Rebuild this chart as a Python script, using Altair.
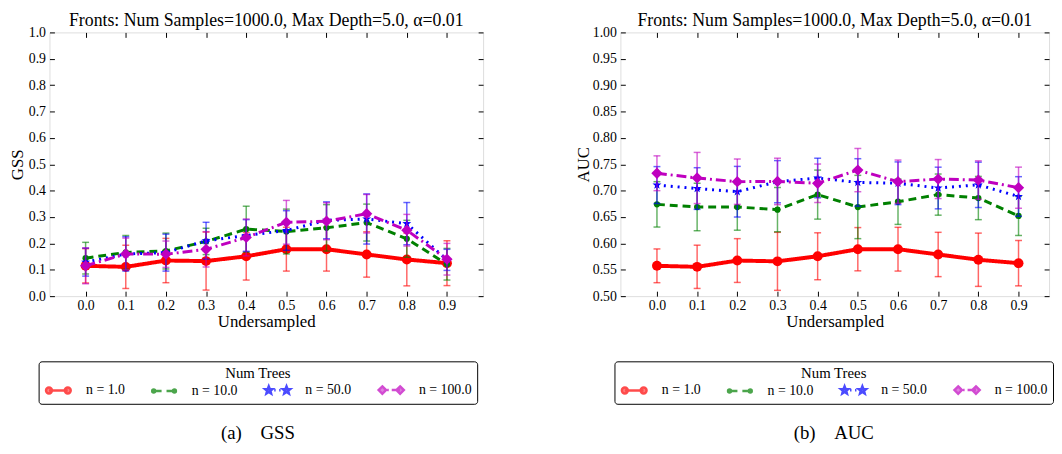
import altair as alt
import pandas as pd
import math

FONT = "Liberation Serif"

# ---------------- data ----------------
x_vals = [0.0, 0.1, 0.2, 0.3, 0.4, 0.5, 0.6, 0.7, 0.8, 0.9]
series = ["n = 1.0", "n = 10.0", "n = 50.0", "n = 100.0"]
colors = ["#ff0000", "#008000", "#0000ff", "#bf00bf"]

gss_n1 = [0.115, 0.111, 0.135, 0.133, 0.151, 0.178, 0.178, 0.158, 0.139, 0.125]
gss_n1_sd = [0.065, 0.082, 0.084, 0.110, 0.090, 0.083, 0.083, 0.086, 0.100, 0.085]
gss_n10 = [0.144, 0.166, 0.171, 0.2075, 0.254, 0.245, 0.259, 0.279, 0.2175, 0.121]
gss_n10_sd = [0.060, 0.064, 0.068, 0.050, 0.087, 0.085, 0.088, 0.070, 0.070, 0.060]
gss_n50 = [0.129, 0.160, 0.165, 0.210, 0.230, 0.249, 0.2875, 0.2925, 0.275, 0.1375]
gss_n50_sd = [0.053, 0.065, 0.070, 0.070, 0.060, 0.075, 0.070, 0.095, 0.080, 0.040]
gss_n100 = [0.115, 0.160, 0.159, 0.1775, 0.2225, 0.280, 0.284, 0.3125, 0.250, 0.140]
gss_n100_sd = [0.068, 0.060, 0.050, 0.067, 0.070, 0.083, 0.070, 0.073, 0.060, 0.060]

auc_n1 = [0.5575, 0.5556, 0.5675, 0.566, 0.5756, 0.589, 0.589, 0.579, 0.569, 0.5625]
auc_n1_sd = [0.032, 0.041, 0.0415, 0.055, 0.0445, 0.041, 0.0415, 0.042, 0.0505, 0.043]
auc_n10 = [0.674, 0.669, 0.669, 0.664, 0.6925, 0.669, 0.679, 0.6925, 0.686, 0.652]
auc_n10_sd = [0.043, 0.045, 0.044, 0.042, 0.0465, 0.060, 0.043, 0.039, 0.041, 0.037]
auc_n50 = [0.7106, 0.704, 0.698, 0.717, 0.724, 0.7156, 0.714, 0.705, 0.711, 0.689]
auc_n50_sd = [0.035, 0.0395, 0.048, 0.040, 0.0375, 0.045, 0.0405, 0.0395, 0.043, 0.0375]
auc_n100 = [0.733, 0.724, 0.717, 0.7175, 0.714, 0.739, 0.717, 0.722, 0.720, 0.7056]
auc_n100_sd = [0.033, 0.0485, 0.043, 0.044, 0.0365, 0.041, 0.041, 0.037, 0.0365, 0.039]

gss_ticks = [0.0, 0.1, 0.2, 0.3, 0.4, 0.5, 0.6, 0.7, 0.8, 0.9, 1.0]
auc_ticks = [0.50, 0.55, 0.60, 0.65, 0.70, 0.75, 0.80, 0.85, 0.90, 0.95, 1.00]

title_text = "Fronts: Num Samples=1000.0, Max Depth=5.0, \u03b1=0.01"


def build_df(means, sds):
    rows = []
    for s, m, sd in zip(series, means, sds):
        for x, v, e in zip(x_vals, m, sd):
            rows.append({"x": x, "series": s, "mean": v, "lo": v - e, "hi": v + e})
    return pd.DataFrame(rows)


gss_df = build_df([gss_n1, gss_n10, gss_n50, gss_n100],
                  [gss_n1_sd, gss_n10_sd, gss_n50_sd, gss_n100_sd])
auc_df = build_df([auc_n1, auc_n10, auc_n50, auc_n100],
                  [auc_n1_sd, auc_n10_sd, auc_n50_sd, auc_n100_sd])


# ---------------- marker / legend glyphs ----------------
def circle(cx, r):
    return f"M{cx + r},0A{r},{r} 0 1,1 {cx - r},0A{r},{r} 0 1,1 {cx + r},0Z"


def star(cx, R, ri):
    pts = []
    for k in range(10):
        a = math.radians(-90 + 36 * k)
        r = R if k % 2 == 0 else ri
        pts.append(f"{cx + r * math.cos(a):.3f},{r * math.sin(a):.3f}")
    return "M" + "L".join(pts) + "Z"


def diamond(cx, h):
    return f"M{cx},{-h}L{cx + h},0L{cx},{h}L{cx - h},0Z"


def seg(a, b):
    return f"M{a},0L{b},0"


legend_paths = [
    seg(-0.3, 3.5) + circle(-0.3, 0.6) + circle(3.5, 0.6),
    seg(-0.5, 1.1) + seg(2.1, 3.7) + circle(-0.5, 0.3) + circle(3.7, 0.3),
    seg(0.9, 1.2) + seg(1.9, 2.2) + star(-0.2, 0.8, 0.35) + star(3.4, 0.8, 0.35),
    seg(0.8, 1.1) + seg(1.7, 3.4) + diamond(-0.2, 0.75) + diamond(3.4, 0.75),
]
point_shapes = ["circle", "circle", star(0, 1, 0.4), "M0,-1L1,0L0,1L-1,0Z"]
point_sizes = [100, 40, 90, 130]
dash_list = [[1, 0], [8, 5], [2, 5], [10, 4, 2, 4]]
width_list = [4, 3, 3, 3]

INDEP = dict(fill="independent", stroke="independent", shape="independent")


def panel(df, ytitle, ydomain, yticks, yfmt, xdomain, width, ytitle_pad,
          legend_x, caption, cap_dx):
    xs = alt.Scale(domain=xdomain, nice=False, zero=False)
    ys = alt.Scale(domain=ydomain, nice=False, zero=False)
    common = dict(offset=-5, tickSize=5, domain=False, grid=False,
                  tickColor="black", tickWidth=1,
                  labelFont=FONT, labelFontSize=14, labelColor="black",
                  titleFont=FONT, titleFontSize=17, titleFontWeight="normal",
                  titleColor="black")
    x_bottom = alt.Axis(orient="bottom", values=x_vals, format=".1f",
                        title="Undersampled", labelPadding=3, titlePadding=1,
                        **common)
    x_top = alt.Axis(orient="top", values=x_vals, labels=False, title=None, **common)
    y_left = alt.Axis(orient="left", values=yticks, format=yfmt, title=ytitle,
                      labelPadding=4, titlePadding=ytitle_pad, **common)
    y_right = alt.Axis(orient="right", values=yticks, labels=False, title=None, **common)

    layers = []
    for i, (s, c, shp, sz, dash, sw) in enumerate(
            zip(series, colors, point_shapes, point_sizes, dash_list, width_list)):
        first = i == 0
        b = alt.Chart(df).transform_filter(alt.datum.series == s)
        layers.append(b.mark_rule(strokeWidth=1.5, opacity=0.6, color=c).encode(
            x=alt.X("x:Q", scale=xs, axis=x_top if first else None),
            y=alt.Y("lo:Q", scale=ys, axis=y_right if first else None),
            y2="hi:Q",
        ))
        for f in ["lo", "hi"]:
            layers.append(b.mark_tick(orient="horizontal", thickness=1.5, size=7,
                                      opacity=0.6, color=c).encode(
                x=alt.X("x:Q", scale=xs, axis=None),
                y=alt.Y(f"{f}:Q", scale=ys, axis=None),
            ))
        layers.append(b.mark_line(color=c, strokeDash=dash, strokeWidth=sw).encode(
            x=alt.X("x:Q", scale=xs, axis=x_bottom if first else None),
            y=alt.Y("mean:Q", scale=ys, axis=y_left if first else None),
        ))
        layers.append(b.mark_point(filled=True, shape=shp, size=sz, color=c, opacity=1).encode(
            x=alt.X("x:Q", scale=xs, axis=None),
            y=alt.Y("mean:Q", scale=ys, axis=None),
        ))

    leg = alt.Legend(title="Num Trees", orient="none", legendX=legend_x, legendY=333,
                     direction="horizontal", columns=4, columnPadding=22,
                     labelOffset=29, symbolSize=100, symbolStrokeWidth=2.5,
                     titleAnchor="middle", titleFont=FONT, titleFontSize=15,
                     titleFontWeight="normal", titleColor="black", titlePadding=2,
                     labelFont=FONT, labelFontSize=14, labelColor="black",
                     strokeColor="black", fillColor="white", cornerRadius=3,
                     padding=5)
    legend_layer = alt.Chart(df).mark_point(filled=True, size=0).encode(
        x=alt.X("x:Q", scale=xs, axis=None),
        y=alt.Y("mean:Q", scale=ys, axis=None),
        fill=alt.Fill("series:N", scale=alt.Scale(domain=series, range=colors), legend=leg),
        stroke=alt.Stroke("series:N", scale=alt.Scale(domain=series, range=colors), legend=leg),
        shape=alt.Shape("series:N", scale=alt.Scale(domain=series, range=legend_paths), legend=leg),
    )
    layers.append(legend_layer)
    layer = alt.layer(*layers).resolve_axis(
        x="independent", y="independent").properties(
        width=width, height=267,
        title=alt.Title(title_text, frame="group", anchor="middle", font=FONT,
                        fontSize=18, fontWeight="normal", color="black", offset=-4))
    return alt.vconcat(layer, title=alt.Title(caption, orient="bottom", anchor="middle",
                                              offset=20, dx=cap_dx, font=FONT, fontSize=19,
                                              fontWeight="normal", color="black")
                       ).resolve_scale(**INDEP)


left = panel(gss_df, "GSS", [0.0, 1.0], gss_ticks, ".1f", [-0.09, 0.99], 439, 2, -11,
             "(a)\u2003GSS", 12)
right = panel(auc_df, "AUC", [0.5, 1.0], auc_ticks, ".2f", [-0.091, 0.976], 434, 0, -6,
              "(b)\u2003AUC", 20)

chart = alt.hconcat(left, right, spacing=91).resolve_scale(**INDEP).properties(
    padding=0).configure_view(stroke="#222222", strokeWidth=1).configure(background="white")

chart.save("out.html", embed_options={"renderer": "svg", "actions": False})
